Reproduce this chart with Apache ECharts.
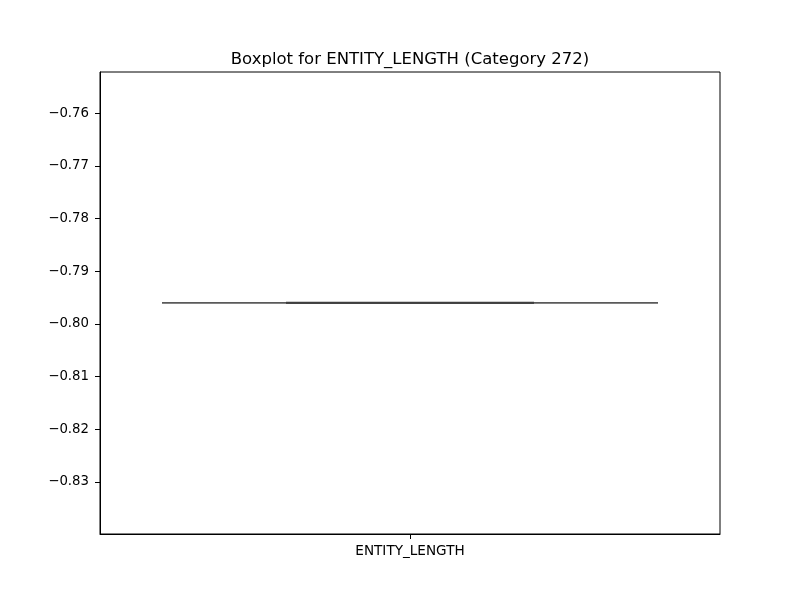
<!DOCTYPE html>
<html>
<head>
<meta charset="utf-8">
<script src="https://cdn.jsdelivr.net/npm/echarts@6/dist/echarts.min.js"></script>
<style>html,body{margin:0;padding:0;background:#fff}#c{width:800px;height:600px}</style>
</head>
<body>
<div id="c"></div>
<script>
const categories = ['ENTITY_LENGTH'];
// [min, Q1, median, Q3, max]
const boxValues = [[-0.796, -0.796, -0.796, -0.796, -0.796]];
const yTicks = [-0.83, -0.82, -0.81, -0.80, -0.79, -0.78, -0.77, -0.76];
const yMin = -0.8399;
const yMax = -0.7522;

const fmt = v => (v < 0 ? '\u2212' : '') + Math.abs(v).toFixed(2);
const seriesData = boxValues.map((b, i) => [i].concat(b));

function renderBox(params, api) {
  const idx = api.value(0);
  const band = api.size([1, 0])[0];
  const p = k => api.coord([idx, api.value(k)]);
  const pMin = p(1), pQ1 = p(2), pMed = p(3), pQ3 = p(4), pMax = p(5);
  const cx = pMed[0];
  const bw = band * 0.8, cw = band * 0.4;
  const stroke = '#5a5a5a', dark = '#3f3f3f';
  return {
    type: 'group',
    children: [
      {type: 'rect', shape: {x: cx - bw / 2, y: pQ3[1], width: bw, height: pQ1[1] - pQ3[1]},
       style: {fill: '#fff', stroke: stroke, lineWidth: 1.5}},
      {type: 'line', shape: {x1: cx, y1: pQ1[1], x2: cx, y2: pMin[1]}, style: {stroke: stroke, lineWidth: 1.5}},
      {type: 'line', shape: {x1: cx, y1: pQ3[1], x2: cx, y2: pMax[1]}, style: {stroke: stroke, lineWidth: 1.5}},
      {type: 'line', shape: {x1: cx - cw / 2, y1: pMin[1], x2: cx + cw / 2, y2: pMin[1]}, style: {stroke: dark, lineWidth: 1.5}},
      {type: 'line', shape: {x1: cx - cw / 2, y1: pMax[1], x2: cx + cw / 2, y2: pMax[1]}, style: {stroke: dark, lineWidth: 1.5}},
      {type: 'line', shape: {x1: cx - bw / 2, y1: pMed[1], x2: cx + bw / 2, y2: pMed[1]}, style: {stroke: stroke, lineWidth: 1.5}},
      {type: 'line', shape: {x1: cx - cw / 2, y1: pMed[1], x2: cx + cw / 2, y2: pMed[1]}, style: {stroke: dark, lineWidth: 2}}
    ]
  };
}

const chart = echarts.init(document.getElementById('c'), null, {renderer: 'canvas'});
chart.setOption({
  animation: false,
  backgroundColor: '#fff',
  textStyle: {fontFamily: 'DejaVu Sans'},
  title: {
    text: 'Boxplot for ENTITY_LENGTH (Category 272)',
    left: 405, top: 46, textAlign: 'center',
    textStyle: {fontFamily: 'DejaVu Sans', fontSize: 16.5, fontWeight: 'normal', color: '#000'}
  },
  grid: {left: 100, right: 80, top: 72, bottom: 66, show: true, borderColor: '#000', borderWidth: 1, backgroundColor: 'transparent'},
  xAxis: {
    type: 'category', data: categories, boundaryGap: true,
    axisLine: {show: true, lineStyle: {color: '#000', width: 1}},
    axisTick: {show: true, alignWithLabel: true, length: 5, lineStyle: {color: '#000'}},
    axisLabel: {color: '#000', fontSize: 13.6, margin: 10, fontFamily: 'DejaVu Sans'},
    splitLine: {show: false}
  },
  yAxis: {
    type: 'value', min: yMin, max: yMax, scale: true,
    axisLine: {show: true, lineStyle: {color: '#000', width: 1}},
    axisTick: {show: true, length: 5, customValues: yTicks, lineStyle: {color: '#000'}},
    axisLabel: {color: '#000', fontSize: 13.3, margin: 11, customValues: yTicks, formatter: fmt, fontFamily: 'DejaVu Sans'},
    splitLine: {show: false}
  },
  series: [{
    type: 'custom',
    renderItem: renderBox,
    data: seriesData,
    encode: {x: 0, y: [1, 2, 3, 4, 5]},
    z: 3
  }]
});
</script>
</body>
</html>
